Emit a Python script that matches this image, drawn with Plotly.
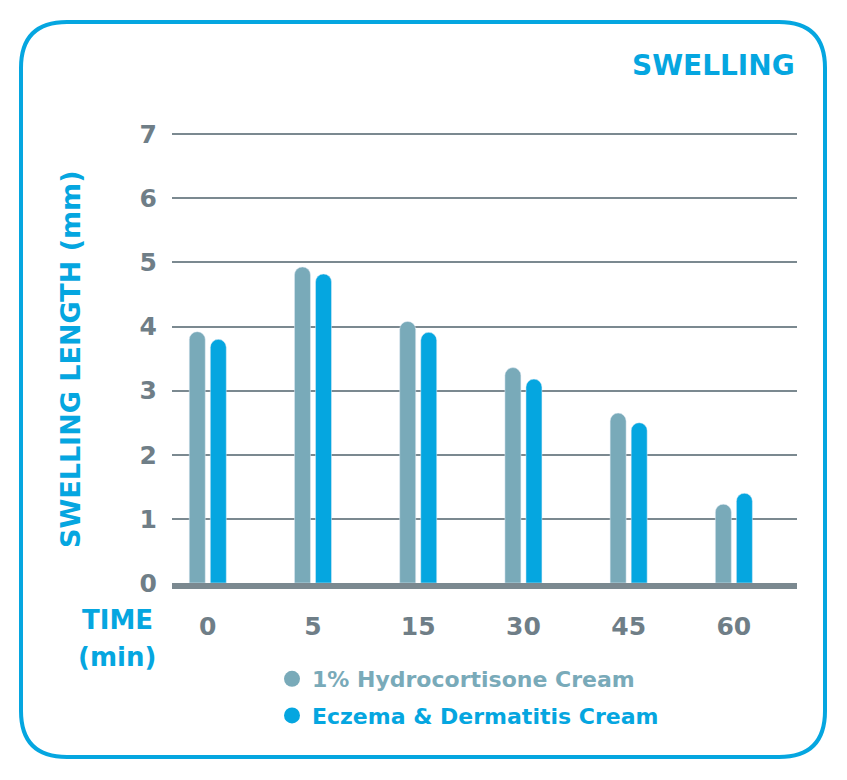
"""
Swelling length over time - grouped bar chart
"""

import plotly.graph_objects as go

# ----------------------------------------------------
# Data
# ----------------------------------------------------

time_labels = ["0", "5", "15", "30", "45", "60"]

hydrocortisone = [3.92, 4.93, 4.08, 3.36, 2.65, 1.23]

eczema_cream = [3.80, 4.82, 3.91, 3.18, 2.50, 1.40]

series_names = ["1% Hydrocortisone Cream", "Eczema & Dermatitis Cream"]

y_ticks = [0, 1, 2, 3, 4, 5, 6, 7]

# ----------------------------------------------------
# Style
# ----------------------------------------------------

BLUE = "#05a6e0"
TEAL_GRAY = "#79aab9"
TEXT_GRAY = "#6f7e87"
GRID_GRAY = "#7b8990"
FONT = "DejaVu Sans"

# the page puts the figure 8px in from the top-left corner
OFFSET = 8

W, H = 847 - OFFSET, 780 - OFFSET
M_L, M_R, M_T, M_B = 172 - OFFSET, 50, 131 - OFFSET, 197
PLOT_W = W - M_L - M_R
PLOT_H = H - M_T - M_B


def px_x(px):
    # px is a position measured on the final screenshot
    return (px - OFFSET - M_L) / PLOT_W


def px_y(py):
    return (H - M_B - (py - OFFSET)) / PLOT_H


fig = go.Figure()

fig.add_trace(
    go.Bar(
        x=time_labels,
        y=hydrocortisone,
        name=series_names[0],
        marker=dict(color=TEAL_GRAY, cornerradius=8),
        showlegend=False
    )
)

fig.add_trace(
    go.Bar(
        x=time_labels,
        y=eczema_cream,
        name=series_names[1],
        marker=dict(color=BLUE, cornerradius=8),
        showlegend=False
    )
)

# legend entries with round markers
for i, (name, color) in enumerate(zip(series_names, [TEAL_GRAY, BLUE])):

    fig.add_trace(
        go.Scatter(
            x=[None],
            y=[None],
            mode="markers",
            name=f"<span style='color:{color}'>{name}</span>",
            legendgroup=f"g{i}",
            marker=dict(color=color, size=16, symbol="circle")
        )
    )

# ----------------------------------------------------
# Rounded frame
# ----------------------------------------------------

left, right, top, bottom, r = 21, 825, 22, 757, 46

frame_path = (
    f"M {px_x(left + r)},{px_y(top)} "
    f"L {px_x(right - r)},{px_y(top)} "
    f"Q {px_x(right)},{px_y(top)} {px_x(right)},{px_y(top + r)} "
    f"L {px_x(right)},{px_y(bottom - r)} "
    f"Q {px_x(right)},{px_y(bottom)} {px_x(right - r)},{px_y(bottom)} "
    f"L {px_x(left + r)},{px_y(bottom)} "
    f"Q {px_x(left)},{px_y(bottom)} {px_x(left)},{px_y(bottom - r)} "
    f"L {px_x(left)},{px_y(top + r)} "
    f"Q {px_x(left)},{px_y(top)} {px_x(left + r)},{px_y(top)} Z"
)

fig.add_shape(
    type="path",
    path=frame_path,
    xref="paper",
    yref="paper",
    line=dict(color=BLUE, width=4),
    layer="below"
)

# ----------------------------------------------------
# Text
# ----------------------------------------------------

fig.add_annotation(
    text="SWELLING",
    x=px_x(797),
    y=px_y(65),
    xref="paper",
    yref="paper",
    xanchor="right",
    yanchor="middle",
    showarrow=False,
    font=dict(family=FONT, size=28, color=BLUE, weight="bold")
)

fig.add_annotation(
    text="SWELLING LENGTH (mm)",
    x=px_x(70),
    y=px_y(359),
    xref="paper",
    yref="paper",
    xanchor="center",
    yanchor="middle",
    textangle=-90,
    showarrow=False,
    font=dict(family=FONT, size=27, color=BLUE, weight="bold")
)

for label, py in [("TIME", 620), ("(min)", 657)]:

    fig.add_annotation(
        text=label,
        x=px_x(117),
        y=px_y(py),
        xref="paper",
        yref="paper",
        xanchor="center",
        yanchor="middle",
        showarrow=False,
        font=dict(family=FONT, size=26, color=BLUE, weight="bold")
    )

# ----------------------------------------------------
# Layout
# ----------------------------------------------------

fig.update_layout(
    width=W,
    height=H,
    margin=dict(l=M_L, r=M_R, t=M_T, b=M_B, autoexpand=False),
    paper_bgcolor="white",
    plot_bgcolor="white",
    barmode="group",
    bargap=0.6,
    bargroupgap=0.24,
    showlegend=True,
    legend=dict(
        x=px_x(272),
        y=px_y(658),
        xanchor="left",
        yanchor="top",
        tracegroupgap=5,
        font=dict(family=FONT, size=22, color=TEXT_GRAY, weight="bold"),
        bgcolor="rgba(0,0,0,0)",
        itemclick=False
    )
)

fig.update_xaxes(
    type="category",
    range=[-0.34, 5.6],
    showgrid=False,
    zeroline=False,
    showline=True,
    linecolor=GRID_GRAY,
    linewidth=6,
    ticks="",
    ticklabelstandoff=16,
    tickfont=dict(family=FONT, size=25, color=TEXT_GRAY, weight="bold")
)

fig.update_yaxes(
    range=[0, 7.05],
    tickvals=y_ticks,
    showgrid=True,
    gridcolor=GRID_GRAY,
    gridwidth=2,
    zeroline=False,
    showline=False,
    ticks="",
    ticklabelstandoff=14,
    tickfont=dict(family=FONT, size=25, color=TEXT_GRAY, weight="bold")
)

fig.write_html("out.html")
